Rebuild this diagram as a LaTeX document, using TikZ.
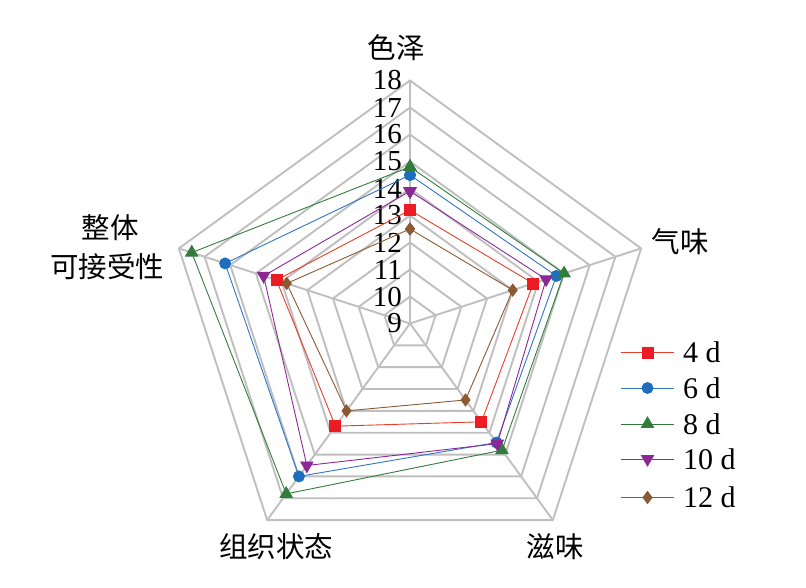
\documentclass[tikz,border=0pt]{standalone}
\usepackage{fontspec}
\setmainfont{Liberation Serif}
\newfontfamily\cjk{Noto Sans CJK SC}
\usetikzlibrary{plotmarks,calc}
\definecolor{gridc}{RGB}{191,191,191}
\definecolor{cA}{RGB}{232,62,40}
\definecolor{mA}{RGB}{237,28,36}
\definecolor{cB}{RGB}{46,117,198}
\definecolor{mB}{RGB}{30,110,190}
\definecolor{cC}{RGB}{50,125,60}
\definecolor{cD}{RGB}{140,40,150}
\definecolor{cE}{RGB}{140,90,50}
\tikzset{
  gridline/.style={draw=gridc,line width=1.9pt},
  serA/.style={draw=cA,line width=0.9pt,mark=square*,mark size=5.5pt,mark options={solid,fill=mA,draw=mA}},
  serB/.style={draw=cB,line width=0.9pt,mark=*,mark size=5.5pt,mark options={solid,fill=mB,draw=mB}},
  serC/.style={draw=cC,line width=0.9pt,mark=triangle*,mark size=7pt,mark options={solid,fill=cC,draw=cC}},
  serD/.style={draw=cD,line width=0.9pt,mark=triangle*,mark size=7pt,mark options={solid,fill=cD,draw=cD,rotate=180}},
  serE/.style={draw=cE,line width=0.9pt,mark=diamond*,mark size=6pt,mark options={solid,fill=cE,draw=cE}},
  lbl/.style={font=\fontsize{28.5}{30}\selectfont\cjk,inner sep=0pt},
  num/.style={font=\fontsize{29}{30}\selectfont,inner sep=0pt,anchor=east},
  leg/.style={font=\fontsize{30}{32}\selectfont,inner sep=0pt,anchor=west}
}
\newcommand{\myser}[6]{%
  \draw[#1] plot coordinates {
    ($(O)+(90:{27*(#2-9)})$)
    ($(O)+(18:{27*(#3-9)})$)
    ($(O)+(-54:{27*(#4-9)})$)
    ($(O)+(-126:{27*(#5-9)})$)
    ($(O)+(162:{27*(#6-9)})$)
    ($(O)+(90:{27*(#2-9)})$)
  };}
\begin{document}
\begin{tikzpicture}[x=1pt,y=1pt]
\useasboundingbox (0,-588) rectangle (806,0);
\coordinate (O) at (410,-323.5);
% rings
\foreach \v in {1,...,9}{
  \pgfmathsetmacro{\r}{27*\v}
  \draw[gridline] ($(O)+(90:\r)$) -- ($(O)+(18:\r)$) -- ($(O)+(-54:\r)$) -- ($(O)+(-126:\r)$) -- ($(O)+(162:\r)$) -- cycle;
}
\foreach \a in {90,18,-54,-126,162}{
  \draw[gridline] (O) -- ($(O)+(\a:243)$);
}
% axis numbers
\foreach \v in {9,...,18}{
  \node[num] at (402,{-323.5+27*(\v-9)}) {\v};
}
% series
\myser{serA}{13.2}{13.8}{13.5}{13.7}{14.2}
\myser{serB}{14.5}{14.7}{14.45}{16.0}{16.2}
\myser{serC}{14.8}{15.0}{14.8}{16.8}{17.5}
\myser{serD}{13.9}{14.3}{14.5}{15.5}{14.7}
\myser{serE}{12.5}{13.0}{12.5}{13.0}{13.8}
% category labels
\node[lbl] (c1) at (396,-48) {色泽};
\node[lbl] (c2) at (680,-242) {气味};
\node[lbl] (c3) at (555,-547) {滋味};
\node[lbl] (c4) at (276,-547) {组织状态};
\node[lbl] (c5a) at (110,-228) {整体};
\node[lbl] (c5b) at (107,-267) {可接受性};
% legend
\foreach \s/\t/\y in {serA/4 d/352.7,serB/6 d/388,serC/8 d/424,serD/10 d/459,serE/12 d/497.5}{
  \draw[\s,mark=none] (621,-\y) -- (674,-\y);
  \draw[\s] plot coordinates {(647.5,-\y)};
  \node[leg] at (683,-\y) {\t};
}
\end{tikzpicture}
\end{document}
